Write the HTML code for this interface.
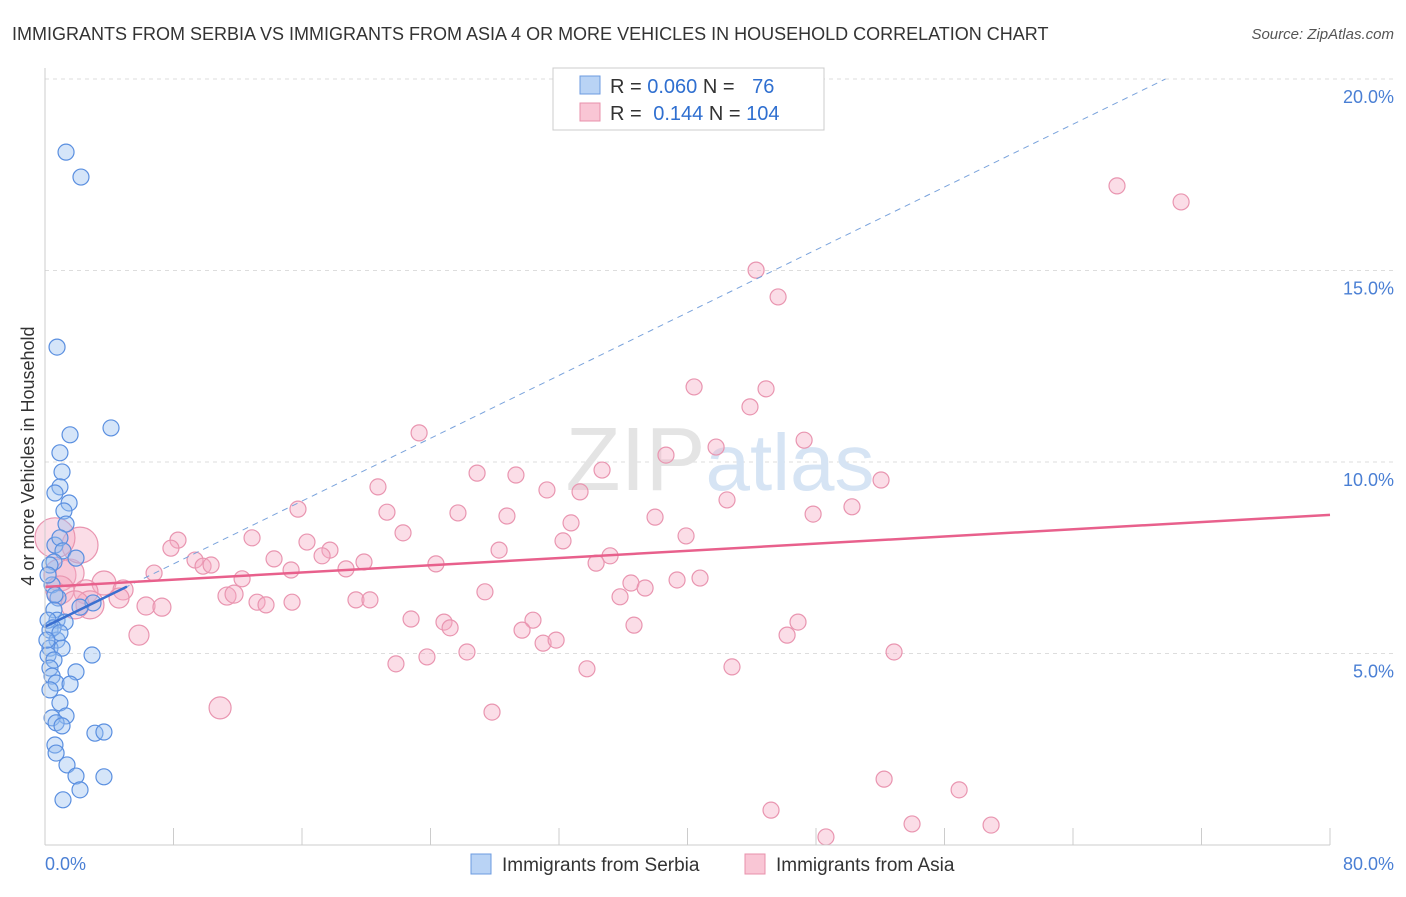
<!DOCTYPE html>
<html><head><meta charset="utf-8"><style>
body{margin:0;background:#fff;font-family:"Liberation Sans",sans-serif;}
svg text{font-family:"Liberation Sans",sans-serif;}
</style></head><body>
<svg id="chart" width="1406" height="892" viewBox="0 0 1406 892" xmlns="http://www.w3.org/2000/svg">
<text x="12" y="40" font-size="18" fill="#333">IMMIGRANTS FROM SERBIA VS IMMIGRANTS FROM ASIA 4 OR MORE VEHICLES IN HOUSEHOLD CORRELATION CHART</text>
<text x="1394" y="39" font-size="15" fill="#555" text-anchor="end" font-style="italic">Source: ZipAtlas.com</text>
<g id="grid"></g>
<text x="720" y="490" font-size="90" text-anchor="middle" fill="#e4e4e4" font-family="Liberation Serif">ZIP<tspan fill="#d6e4f4" font-family="Liberation Sans" font-size="80">atlas</tspan></text>
<g id="pts"></g>
<g id="lines"></g>
<line x1="45" y1="68" x2="45" y2="845" stroke="#ccc"/>
<line x1="45" y1="845" x2="1330" y2="845" stroke="#ccc"/>
<g id="ticks"></g>
<text transform="translate(34,456) rotate(-90)" font-size="18" fill="#333" text-anchor="middle">4 or more Vehicles in Household</text>
<text x="45" y="870" font-size="18" fill="#4a7fd4">0.0%</text>
<text x="1394" y="870" font-size="18" fill="#4a7fd4" text-anchor="end">80.0%</text>
<g>
<rect x="553" y="68" width="271" height="62" fill="#fff" stroke="#ccc"/>
<rect x="580" y="76" width="20" height="18" fill="#b9d3f5" stroke="#6c9be0"/>
<rect x="580" y="103" width="20" height="18" fill="#f9c6d5" stroke="#e890ab"/>
<text x="610" y="93" font-size="20" fill="#333">R = <tspan fill="#2f6fd0">0.060</tspan>   N =  <tspan fill="#2f6fd0" dx="12">76</tspan></text>
<text x="610" y="120" font-size="20" fill="#333">R =  <tspan fill="#2f6fd0" dx="6">0.144</tspan>   N = <tspan fill="#2f6fd0">104</tspan></text>
</g>
<g>
<rect x="471" y="854" width="20" height="20" fill="#b9d3f5" stroke="#6c9be0"/>
<text x="502" y="871" font-size="19" fill="#333">Immigrants from Serbia</text>
<rect x="745" y="854" width="20" height="20" fill="#f9c6d5" stroke="#e890ab"/>
<text x="776" y="871" font-size="19" fill="#333">Immigrants from Asia</text>
</g>
</svg>
<script>
const serbiaX=[1.31,2.24,0.75,1.56,4.11,0.93,1.06,0.93,1.50,0.62,1.18,1.31,0.62,0.93,1.12,1.93,0.56,0.31,0.44,0.81,0.56,0.75,1.25,0.31,0.75,0.31,1.06,0.19,0.56,2.93,0.31,1.93,0.44,0.69,1.56,0.31,0.93,1.31,0.44,0.69,1.06,3.11,3.67,0.62,0.69,1.37,1.93,3.67,2.18,1.12,2.99,2.18,0.19,0.50,0.93,0.12,0.62,0.19];
const serbiaY=[18.09,17.44,13.00,10.71,10.89,10.24,9.74,9.35,8.93,9.19,8.72,8.38,7.83,8.02,7.68,7.49,7.39,7.31,6.79,6.45,6.14,5.87,5.82,5.61,5.35,5.14,5.14,4.96,4.83,4.96,4.62,4.52,4.41,4.23,4.20,4.05,3.71,3.37,3.32,3.19,3.11,2.92,2.95,2.61,2.40,2.09,1.80,1.78,1.44,1.18,6.32,6.21,5.87,5.67,5.54,5.35,6.53,7.05];
const asiaX=[66.74,70.73,44.27,45.64,40.41,44.89,43.89,23.29,47.26,41.78,38.66,34.68,26.90,29.32,52.05,20.73,31.25,33.31,42.46,15.75,25.71,21.29,28.76,37.98,50.24,47.82,32.75,22.29,12.89,8.28,16.31,39.91,32.25,7.84,17.74,28.27,17.25,35.18,9.34,14.26,19.86,9.84,10.34,34.31,24.34,15.32,18.74,6.79,40.78,39.35,12.27,36.48,37.36,27.39,3.67,4.86,0.93,1.56,2.55,4.61,2.80,11.33,11.77,15.38,19.36,20.23,13.20,13.76,35.80,6.29,7.28,22.79,30.38,24.84,25.22,36.67,29.70,46.88,5.85,31.01,31.82,46.20,26.27,23.78,21.85,52.86,33.74,42.77,10.90,27.83,52.24,56.91,45.20,53.98,58.90,48.62,2.18,0.62,0.93,1.87];
const asiaY=[17.21,16.79,15.01,14.31,11.96,11.91,11.44,10.76,10.57,10.39,10.18,9.79,9.71,9.66,9.53,9.35,9.27,9.22,9.01,8.77,8.67,8.69,8.59,8.56,8.83,8.64,8.41,8.15,8.02,7.96,7.91,8.07,7.94,7.75,7.70,7.70,7.55,7.55,7.44,7.47,7.39,7.28,7.31,7.36,7.34,7.18,7.21,7.10,6.97,6.92,6.95,6.84,6.71,6.61,6.84,6.66,7.05,7.10,6.61,6.45,6.27,6.50,6.55,6.34,6.40,6.40,6.34,6.27,6.48,6.24,6.21,5.90,5.87,5.82,5.67,5.74,5.61,5.82,5.48,5.27,5.35,5.48,5.04,4.91,4.73,5.04,4.60,4.65,3.58,3.47,1.72,1.44,0.91,0.55,0.52,0.21,7.83,8.02,6.66,6.27];
const asiaR=[8,8,8,8,8,8,8,8,8,8,8,8,8,8,8,8,8,8,8,8,8,8,8,8,8,8,8,8,8,8,8,8,8,8,8,8,8,8,8,8,8,8,8,8,8,8,8,8,8,8,8,8,8,8,12,10,16,14,12,10,14,9,9,8,8,8,8,8,8,9,9,8,8,8,8,8,8,8,10,8,8,8,8,8,8,8,8,8,11,8,8,8,8,8,8,8,18,20,14,14];
const yTicks=[5,10,15,20];
const yTickLabels=["5.0%","10.0%","15.0%","20.0%"];
const xTicks=[0,8,16,24,32,40,48,56,64,72,80];
const serbiaTrend=[5.7,0.205];
const asiaTrend=[6.74,8.62];
const X=v=>45+v/80*1285;
const Y=v=>845-v/5*191.5;
const NS="http://www.w3.org/2000/svg";
function mk(tag,attrs,parent){const e=document.createElementNS(NS,tag);for(const k in attrs)e.setAttribute(k,attrs[k]);parent.appendChild(e);return e;}
const grid=document.getElementById('grid'),ticks=document.getElementById('ticks'),pts=document.getElementById('pts'),lines=document.getElementById('lines');
yTicks.forEach((t,i)=>{
 const g=mk('line',{x1:45,x2:1394,y1:Y(t),y2:Y(t),stroke:'#ddd','stroke-dasharray':'4,4'},grid);
 
 
 const tx=mk('text',{x:1394,y:Y(t)+24,'font-size':18,fill:'#4a7fd4','text-anchor':'end'},ticks);
 tx.textContent=yTickLabels[i];
 
 
});
xTicks.forEach(t=>{
 const l=mk('line',{x1:X(t),x2:X(t),y1:828,y2:845,stroke:'#ccc'},ticks);
 
 
});
asiaX.forEach((x,i)=>{
 const c=mk('circle',{cx:X(x),cy:Y(asiaY[i]),r:asiaR[i],fill:'rgba(246,170,195,0.4)',stroke:'#e995b0','stroke-width':1.2},pts);
 
 
});
serbiaX.forEach((x,i)=>{
 const c=mk('circle',{cx:X(x),cy:Y(serbiaY[i]),r:8,fill:'rgba(150,190,240,0.4)',stroke:'#5a8fe0','stroke-width':1.2},pts);
 
 
});
const xEnd=(20-serbiaTrend[0])/serbiaTrend[1];
const d=mk('line',{x1:X(0),y1:Y(serbiaTrend[0]),x2:X(xEnd),y2:Y(20),stroke:'#7aa3dc','stroke-width':1,'stroke-dasharray':'6,5'},lines);


const s=mk('line',{x1:X(0),y1:Y(serbiaTrend[0]),x2:X(5.1),y2:Y(serbiaTrend[0]+serbiaTrend[1]*5.1),stroke:'#3a6fd0','stroke-width':2.5},lines);


const a=mk('line',{x1:X(0),y1:Y(asiaTrend[0]),x2:X(80),y2:Y(asiaTrend[1]),stroke:'#e8608c','stroke-width':2.5},lines);


</script>
</body></html>
